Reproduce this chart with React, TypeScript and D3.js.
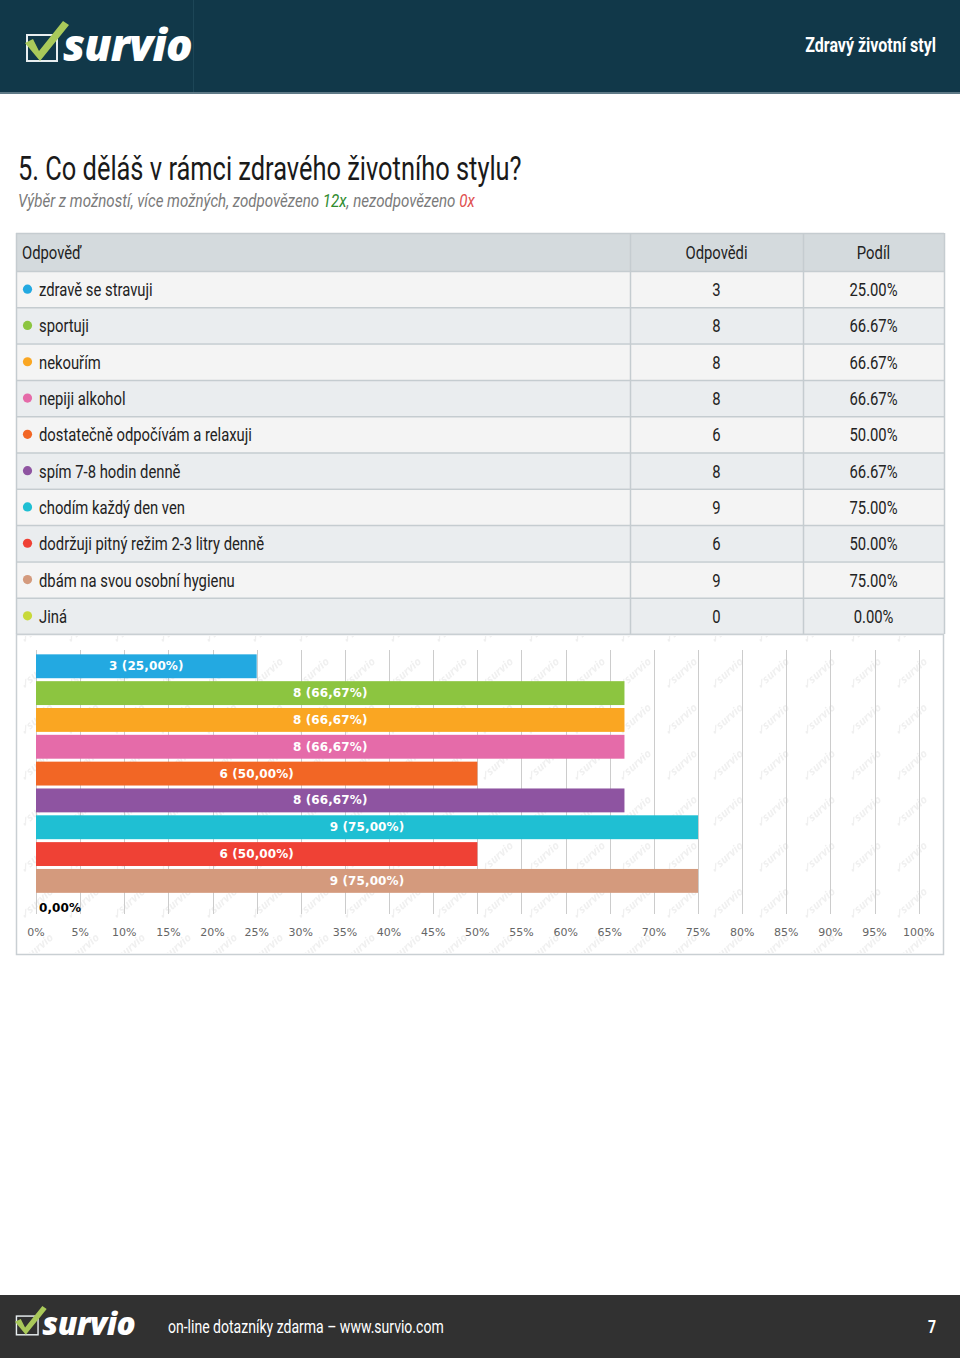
import React from 'react';
import * as d3 from 'd3';

const categories = [
  'zdravě se stravuji',
  'sportuji',
  'nekouřím',
  'nepiji alkohol',
  'dostatečně odpočívám a relaxuji',
  'spím 7-8 hodin denně',
  'chodím každý den ven',
  'dodržuji pitný režim 2-3 litry denně',
  'dbám na svou osobní hygienu',
  'Jiná',
];
const counts = [3, 8, 8, 8, 6, 8, 9, 6, 9, 0];
const shares = ['25.00%', '66.67%', '66.67%', '66.67%', '50.00%', '66.67%', '75.00%', '50.00%', '75.00%', '0.00%'];
const barLabels = ['3 (25,00%)', '8 (66,67%)', '8 (66,67%)', '8 (66,67%)', '6 (50,00%)', '8 (66,67%)', '9 (75,00%)', '6 (50,00%)', '9 (75,00%)', '0,00%'];
const colors = ['#23a9e1', '#8cc540', '#faa622', '#e56ba9', '#f26625', '#8e54a1', '#1fbfd3', '#ef4135', '#d49a7d', '#c8d93a'];
const answered = 12;
const tickValues = [0, 5, 10, 15, 20, 25, 30, 35, 40, 45, 50, 55, 60, 65, 70, 75, 80, 85, 90, 95, 100];

const narrow = "Roboto, sans-serif";
const chartFont = "'DejaVu Sans', sans-serif";
const SX = 0.78;

// narrow text: squeeze a regular font horizontally to mimic a condensed face
const NText = ({ x, y, sx = SX, anchor = 'start', children, ...rest }: any) => (
  <text transform={`translate(${x},${y}) scale(${sx},1)`} textAnchor={anchor} fontFamily={narrow} {...rest}>
    {children}
  </text>
);

const Logo = ({ x, y, s }: { x: number; y: number; s: number }) => (
  <g transform={`translate(${x},${y}) scale(${s})`}>
    <rect x={2} y={14} width={30} height={26} fill="none" stroke="#e8eef0" strokeWidth={2} />
    <path d="M0,22 L8,18 L14,30 L38,0 L44,4 L15,40 Z" fill="#a9c95a" />
    <text x={38} y={40} fill="#fff" fontFamily="'Open Sans', sans-serif" fontWeight={800}
      fontStyle="italic" fontSize={44} letterSpacing={-0.8}>survio</text>
  </g>
);

const App = () => {
  const W = 960;
  const H = 1358;

  const x = d3.scaleLinear().domain([0, 100]).range([36, 918.7]);
  const yBar = d3.scaleBand<string>().domain(categories).range([653, 921]).paddingInner(0.11).paddingOuter(0.05);
  const yRow = d3.scaleBand<string>().domain(categories).range([271, 634]);

  const col1 = 630;
  const col2 = 803;
  const tableL = 16;
  const tableR = 944;

  return (
    <svg width={W} height={H} style={{ position: 'absolute', left: 0, top: 0, display: 'block', background: '#fff' }}>
      <defs>
        <pattern id="wm" width={46} height={46} patternUnits="userSpaceOnUse" x={10} y={4}>
          <text x={6} y={34} transform="rotate(-42 20 28)" fontFamily="'Open Sans', sans-serif"
            fontStyle="italic" fontWeight={700} fontSize={11} fill="#f0f0f0">✓survio</text>
        </pattern>
      </defs>

      {/* header */}
      <rect x={0} y={0} width={W} height={93} fill="#113849" />
      <line x1={193.5} x2={193.5} y1={0} y2={92} stroke="#1d4657" />
      <rect x={0} y={92} width={W} height={2} fill="#5e7986" />
      <Logo x={25} y={21} s={1} />
      <NText x={936} y={52} sx={0.8} anchor="end" fill="#fff" fontWeight={700} fontSize={20}>
        Zdravý životní styl
      </NText>

      {/* title */}
      <NText x={18} y={180} sx={0.77} fill="#1a1a1a" fontSize={33}>
        5. Co děláš v rámci zdravého životního stylu?
      </NText>
      <NText x={18} y={207} sx={0.84} fill="#7a7a7a" fontStyle="italic" fontSize={18}>
        Výběr z možností, více možných, zodpovězeno <tspan fill="#2e8b2e">{answered}x</tspan>, nezodpovězeno{' '}
        <tspan fill="#e05050">0x</tspan>
      </NText>

      {/* table */}
      <rect x={tableL} y={233} width={tableR - tableL} height={38} fill="#d4dadd" />
      {categories.map((c, i) => (
        <rect key={c} x={tableL} y={yRow(c)} width={tableR - tableL} height={yRow.bandwidth()}
          fill={i % 2 === 0 ? '#f4f4f4' : '#eaedef'} />
      ))}
      {[233, 271, ...categories.map(c => (yRow(c) as number) + yRow.bandwidth())].map((v, i) => (
        <line key={i} x1={tableL} x2={tableR} y1={v + 0.5} y2={v + 0.5} stroke="#c5ccd0" strokeWidth={1.5} />
      ))}
      {[tableL, col1, col2, tableR].map((v, i) => (
        <line key={i} x1={v + 0.5} x2={v + 0.5} y1={233} y2={634} stroke="#c5ccd0" strokeWidth={1.5} />
      ))}
      <g fontSize={19} fill="#222">
        <NText x={22} y={259}>Odpověď</NText>
        <NText x={(col1 + col2) / 2} y={259} anchor="middle">Odpovědi</NText>
        <NText x={(col2 + tableR) / 2} y={259} anchor="middle">Podíl</NText>
        {categories.map((c, i) => {
          const cy = (yRow(c) as number) + yRow.bandwidth() / 2;
          return (
            <g key={c}>
              <circle cx={27.5} cy={cy} r={4.6} fill={colors[i]} />
              <NText x={39} y={cy + 7}>{c}</NText>
              <NText x={(col1 + col2) / 2} y={cy + 7} anchor="middle">{counts[i]}</NText>
              <NText x={(col2 + tableR) / 2} y={cy + 7} anchor="middle">{shares[i]}</NText>
            </g>
          );
        })}
      </g>

      {/* chart */}
      <rect x={16.5} y={634.5} width={927} height={320} fill="#fff" stroke="#c9cfd3" strokeWidth={1.5} />
      <rect x={18} y={636} width={924} height={317} fill="url(#wm)" />
      {tickValues.map(t => (
        <line key={t} x1={Math.round(x(t)) + 0.5} x2={Math.round(x(t)) + 0.5} y1={650} y2={914}
          stroke="#cccccc" strokeWidth={1} />
      ))}
      {categories.map((c, i) => {
        const v = (counts[i] / answered) * 100;
        const y0 = yBar(c) as number;
        const bh = yBar.bandwidth();
        const w = x(v) - x(0);
        return (
          <g key={c}>
            {w > 0 && <rect x={x(0)} y={y0} width={w} height={bh} fill={colors[i]} />}
            <text x={w > 0 ? x(0) + w / 2 : x(0) + 3} y={y0 + bh / 2} dominantBaseline="central"
              textAnchor={w > 0 ? 'middle' : 'start'} fill={w > 0 ? '#fff' : '#000'}
              fontFamily={chartFont} fontWeight={700} fontSize={12} letterSpacing={0.1}>
              {barLabels[i]}
            </text>
          </g>
        );
      })}
      {tickValues.map(t => (
        <text key={t} x={x(t)} y={932} dominantBaseline="central" textAnchor="middle" fill="#666"
          fontFamily={chartFont} fontSize={11}>{`${t}%`}</text>
      ))}

      {/* footer */}
      <rect x={0} y={1295} width={W} height={H - 1295} fill="#313131" />
      <Logo x={15} y={1306} s={0.72} />
      <NText x={168} y={1333} fill="#fff" fontSize={18}>
        on-line dotazníky zdarma – www.survio.com
      </NText>
      <NText x={936} y={1333} anchor="end" fill="#fff" fontWeight={700} fontSize={18}>7</NText>
    </svg>
  );
};

export default App;
